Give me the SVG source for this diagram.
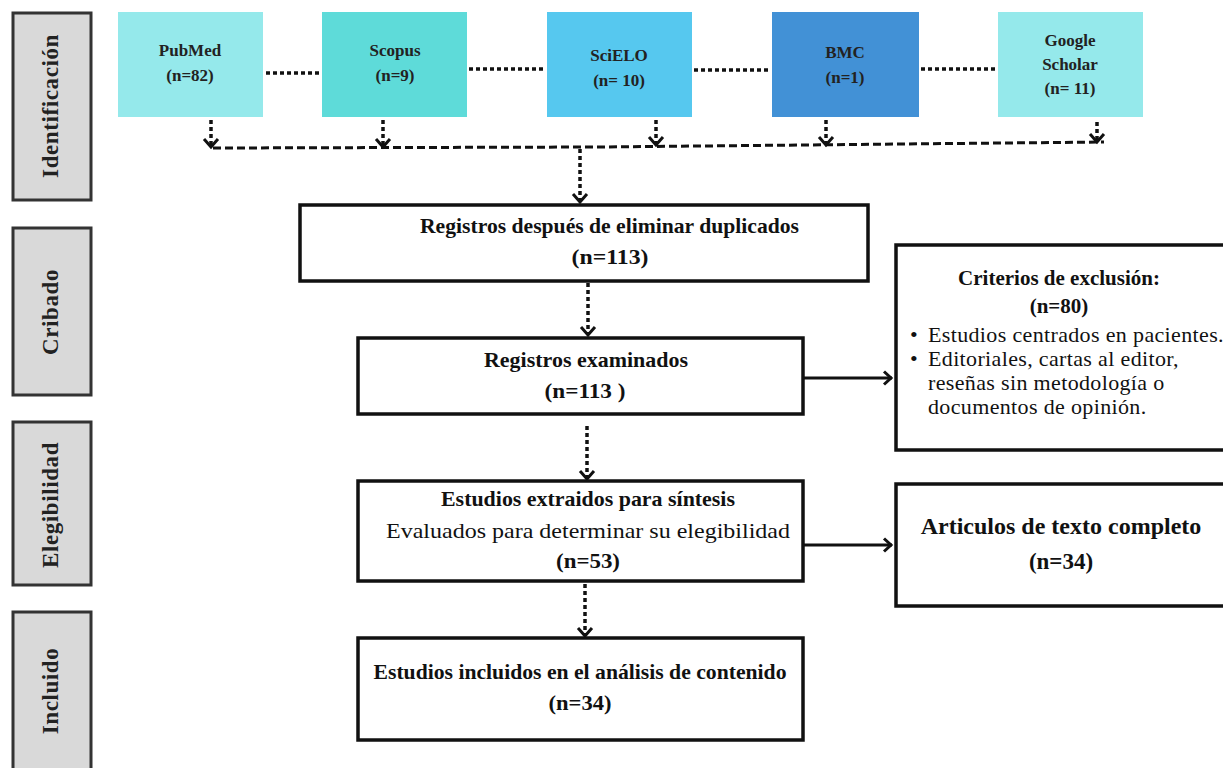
<svg xmlns="http://www.w3.org/2000/svg" width="1223" height="768" viewBox="0 0 1223 768">
<style>
.side{fill:#d9d9d9;stroke:#333;stroke-width:3}
.sidet{font-family:"Liberation Serif",serif;font-weight:bold;font-size:23px;fill:#222;text-anchor:middle;letter-spacing:0.6px}
.src text{font-family:"Liberation Serif",serif;font-weight:bold;font-size:17px;fill:#222;text-anchor:middle}
.box rect{fill:#fff;stroke:#111;stroke-width:3.5}
.box text{font-family:"Liberation Serif",serif;font-size:22px;fill:#111;text-anchor:middle}
.b{font-weight:bold}
.ex text{font-family:"Liberation Serif",serif;font-size:22px;fill:#111;letter-spacing:0.35px}
.dot{stroke:#111;stroke-width:3.5;fill:none;stroke-dasharray:4 3}
.dash{stroke:#111;stroke-width:3;fill:none;stroke-dasharray:8 4}
.solid{stroke:#111;stroke-width:3;fill:none}
.head{fill:none;stroke:#111;stroke-width:3;stroke-dasharray:none}
</style>
<defs>
<marker id="chev" viewBox="0 0 12 18" refX="10" refY="9" markerWidth="12" markerHeight="18" markerUnits="userSpaceOnUse" orient="auto" overflow="visible">
<polyline class="head" points="2,2 10,9 2,16"/>
</marker>
<marker id="arr" viewBox="0 0 12 16" refX="11" refY="8" markerWidth="12" markerHeight="16" markerUnits="userSpaceOnUse" orient="auto" overflow="visible">
<polyline class="head" points="3,1.5 10,8 3,14.5"/>
</marker>
</defs>

<g id="side-identificacion"><rect class="side" x="13" y="13" width="78" height="187"/><text class="sidet" transform="translate(58,106) rotate(-90)">Identificación</text></g>
<g id="side-cribado"><rect class="side" x="13" y="228" width="78" height="167"/><text class="sidet" transform="translate(58,312) rotate(-90)">Cribado</text></g>
<g id="side-elegibilidad"><rect class="side" x="13" y="422" width="78" height="163"/><text class="sidet" transform="translate(58,505) rotate(-90)">Elegibilidad</text></g>
<g id="side-incluido"><rect class="side" x="13" y="612" width="78" height="170"/><text class="sidet" transform="translate(58,691) rotate(-90)">Incluido</text></g>

<g id="pubmed" class="src"><rect x="118" y="12" width="145" height="105" fill="#95E9EB"/><text x="190" y="56">PubMed</text><text x="190" y="81">(n=82)</text></g>
<g id="scopus" class="src"><rect x="322" y="12" width="145" height="105" fill="#5EDBD9"/><text x="395" y="56">Scopus</text><text x="395" y="81">(n=9)</text></g>
<g id="scielo" class="src"><rect x="547" y="12" width="145" height="105" fill="#56C8EF"/><text x="619" y="61">SciELO</text><text x="619" y="86">(n= 10)</text></g>
<g id="bmc" class="src"><rect x="772" y="12" width="147" height="105" fill="#4291D6"/><text x="845" y="58">BMC</text><text x="845" y="83">(n=1)</text></g>
<g id="google" class="src"><rect x="998" y="12" width="145" height="105" fill="#95E9EB"/><text x="1070" y="46">Google</text><text x="1070" y="70">Scholar</text><text x="1070" y="94">(n= 11)</text></g>

<g id="connectors">
<line class="dot" x1="266" y1="73" x2="320" y2="73"/>
<line class="dot" x1="469" y1="69" x2="545" y2="69"/>
<line class="dot" x1="694" y1="70" x2="770" y2="70"/>
<line class="dot" x1="921" y1="69" x2="996" y2="69"/>
<line class="dot" x1="211" y1="120" x2="211" y2="147" marker-end="url(#chev)"/>
<line class="dot" x1="383" y1="120" x2="383" y2="147" marker-end="url(#chev)"/>
<line class="dot" x1="656" y1="120" x2="656" y2="145" marker-end="url(#chev)"/>
<line class="dot" x1="826" y1="120" x2="826" y2="145" marker-end="url(#chev)"/>
<line class="dot" x1="1097" y1="122" x2="1097" y2="142" marker-end="url(#chev)"/>
<polyline class="dash" points="213,148 600,147 1104,142"/>
<line class="dot" x1="580" y1="149" x2="580" y2="202" marker-end="url(#chev)"/>
<line class="dot" x1="588" y1="283" x2="588" y2="335" marker-end="url(#chev)"/>
<line class="dot" x1="587" y1="426" x2="587" y2="479" marker-end="url(#chev)"/>
<line class="dot" x1="585" y1="584" x2="585" y2="636" marker-end="url(#chev)"/>
<line class="solid" x1="803" y1="378" x2="892" y2="378" marker-end="url(#arr)"/>
<line class="solid" x1="803" y1="545" x2="892" y2="545" marker-end="url(#arr)"/>
</g>

<g id="dedup" class="box"><rect x="300" y="205" width="568" height="76"/><text class="b" x="609.5" y="233" textLength="379" lengthAdjust="spacingAndGlyphs">Registros después de eliminar duplicados</text><text class="b" x="610" y="264" textLength="77" lengthAdjust="spacingAndGlyphs">(n=113)</text></g>
<g id="examinados" class="box"><rect x="358" y="338" width="445" height="76"/><text class="b" x="586" y="367" textLength="204" lengthAdjust="spacingAndGlyphs">Registros examinados</text><text class="b" x="585" y="398" textLength="81" lengthAdjust="spacingAndGlyphs">(n=113 )</text></g>
<g id="exclusion" class="ex"><rect x="896" y="245" width="330" height="205" fill="#fff" stroke="#111" stroke-width="3.5"/>
<text x="1059" y="285" text-anchor="middle" font-weight="bold" style="font-size:21px;letter-spacing:0">Criterios de exclusión:</text>
<text x="1059" y="313" text-anchor="middle" font-weight="bold" style="font-size:21px;letter-spacing:0">(n=80)</text>
<text x="910" y="342">•</text><text x="928" y="342">Estudios centrados en pacientes.</text>
<text x="910" y="366">•</text><text x="928" y="366">Editoriales, cartas al editor,</text>
<text x="928" y="390">reseñas sin metodología o</text>
<text x="928" y="414">documentos de opinión.</text></g>
<g id="extraidos" class="box"><rect x="358" y="481" width="445" height="100"/><text class="b" x="588" y="506" textLength="294" lengthAdjust="spacingAndGlyphs">Estudios extraidos para síntesis</text><text x="588" y="538" textLength="404" lengthAdjust="spacingAndGlyphs">Evaluados para determinar su elegibilidad</text><text class="b" x="588" y="568" textLength="64" lengthAdjust="spacingAndGlyphs">(n=53)</text></g>
<g id="completo" class="box"><rect x="896" y="484" width="330" height="122"/><text class="b" x="1061" y="534" style="font-size:24px">Articulos de texto completo</text><text class="b" x="1061" y="569" style="font-size:23px">(n=34)</text></g>
<g id="incluidos" class="box"><rect x="358" y="638" width="445" height="102"/><text class="b" x="580" y="679" textLength="413" lengthAdjust="spacingAndGlyphs">Estudios incluidos en el análisis de contenido</text><text class="b" x="580" y="710" textLength="63" lengthAdjust="spacingAndGlyphs">(n=34)</text></g>
</svg>
